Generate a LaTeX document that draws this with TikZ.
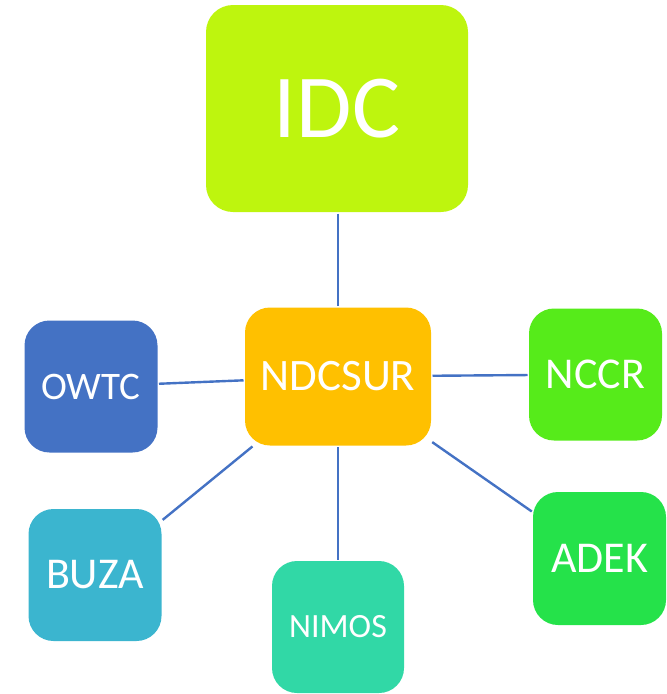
\documentclass[tikz,border=0pt]{standalone}
\usepackage{fontspec}
\setmainfont{Carlito}
\definecolor{cIDC}{HTML}{BEF50E}
\definecolor{cNDC}{HTML}{FFC000}
\definecolor{cOWTC}{HTML}{4472C4}
\definecolor{cNCCR}{HTML}{56EB1A}
\definecolor{cBUZA}{HTML}{3BB5CF}
\definecolor{cNIMOS}{HTML}{31D8A6}
\definecolor{cADEK}{HTML}{25E24A}
\definecolor{cLine}{HTML}{4472C4}
\begin{document}
\begin{tikzpicture}[x=1pt,y=-1pt,
  orgbox/.style={rectangle, rounded corners=25pt, inner sep=0pt, outer sep=0pt, text=white, draw=none},
  link/.style={draw=cLine, line width=2.4pt, shorten >=1.5pt, shorten <=1.5pt}]
\useasboundingbox (0,0) rectangle (667,694);
\node[orgbox, fill=cIDC, minimum width=262pt, minimum height=207pt, rounded corners=27pt,
  font=\fontsize{90}{90}\selectfont] (idc) at (337,108.5) {IDC};
\node[orgbox, fill=cNDC, minimum width=186pt, minimum height=138pt,
  font=\fontsize{45}{45}\selectfont] (ndc) at (338,376.5) {NDCSUR};
\node[orgbox, fill=cOWTC, minimum width=133pt, minimum height=132pt,
  font=\fontsize{39}{39}\selectfont] (owtc) at (91,386.5) {OWTC};
\node[orgbox, fill=cNCCR, minimum width=133pt, minimum height=132pt,
  font=\fontsize{44}{44}\selectfont] (nccr) at (595.5,374.5) {NCCR};
\node[orgbox, fill=cBUZA, minimum width=133pt, minimum height=132pt,
  font=\fontsize{44}{44}\selectfont] (buza) at (95,575) {BUZA};
\node[orgbox, fill=cNIMOS, minimum width=132pt, minimum height=132pt,
  font=\fontsize{34}{34}\selectfont] (nimos) at (338,627) {NIMOS};
\node[orgbox, fill=cADEK, minimum width=133pt, minimum height=133pt,
  font=\fontsize{44}{44}\selectfont] (adek) at (599.5,558.5) {ADEK};
\draw[link] (idc.south -| ndc.north) -- (ndc.north);
\draw[link] (owtc) -- (ndc);
\draw[link] (ndc) -- (nccr);
\draw[link] (ndc) -- (buza);
\draw[link] (ndc.south) -- (nimos.north);
\draw[link] (ndc) -- (adek);
\end{tikzpicture}
\end{document}
